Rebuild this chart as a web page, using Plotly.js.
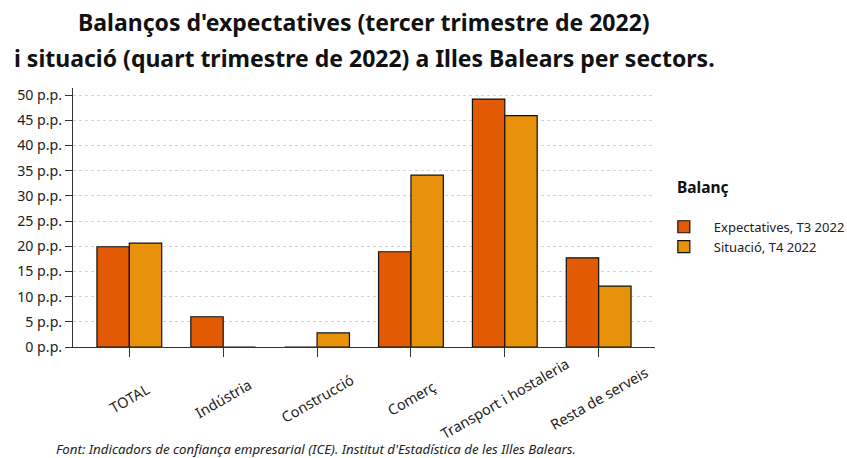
<!DOCTYPE html>
<html>
<head>
<meta charset="utf-8">
<script src="https://cdn.plot.ly/plotly-3.0.1.min.js"></script>
<style>html,body{margin:0;padding:0;background:#fff;}#chart{width:847px;height:458px;}</style>
</head>
<body>
<div id="chart"></div>
<script>
const categories = ["TOTAL", "Indústria", "Construcció", "Comerç", "Transport i hostaleria", "Resta de serveis"];
const expectatives = [19.9, 6.0, 0, 18.9, 49.2, 17.7];
const situacio = [20.6, 0, 2.8, 34.1, 45.9, 12.1];
const seriesNames = ["Expectatives, T3 2022", "Situació, T4 2022"];
const yTickVals = [0, 5, 10, 15, 20, 25, 30, 35, 40, 45, 50];
const yTickText = yTickVals.map(v => v + " p.p.");

const font = "Noto Sans, sans-serif";
const traces = [
  {type: "bar", name: seriesNames[0], x: categories, y: expectatives,
   marker: {color: "#e35a05", line: {color: "#111", width: 1.2}}},
  {type: "bar", name: seriesNames[1], x: categories, y: situacio,
   marker: {color: "#e8910a", line: {color: "#111", width: 1.2}}}
];
const catLabels = categories.map(c => ({
  text: c, xref: "x", yref: "paper", x: c, y: 0, yshift: -51,
  xanchor: "center", yanchor: "middle", textangle: -30, showarrow: false,
  font: {size: 14.5, family: font, color: "#222"}
}));
const layout = {
  width: 847, height: 458,
  margin: {l: 73, r: 192, t: 88, b: 111, autoexpand: false},
  font: {family: font, size: 13, color: "#222"},
  paper_bgcolor: "#fff", plot_bgcolor: "#fff",
  barmode: "group", bargap: 0.31, bargroupgap: 0,
  showlegend: true,
  xaxis: {type: "category", range: [-0.6, 5.6], showticklabels: false,
    showline: true, linecolor: "#333", linewidth: 1,
    ticks: "outside", ticklen: 9, tickcolor: "#333", showgrid: false, zeroline: false},
  yaxis: {range: [0, 51.4], tickvals: yTickVals, ticktext: yTickText,
    showline: true, linecolor: "#333", linewidth: 1,
    ticks: "outside", ticklen: 7, tickcolor: "#333",
    tickfont: {size: 14.2, family: font, color: "#222"},
    showgrid: true, gridcolor: "#d4d4d4", griddash: "dot", gridwidth: 1, zeroline: false},
  legend: {x: 0.998, xanchor: "left", y: 0.522, yanchor: "top",
    font: {size: 13, family: font, color: "#222"}, itemwidth: 50, tracegroupgap: 0,
    bgcolor: "rgba(0,0,0,0)"},
  annotations: [
    {text: "<b>Balanços d'expectatives (tercer trimestre de 2022)</b>", xref: "paper", yref: "paper",
     x: 0.5, y: 1, yshift: 66, xanchor: "center", yanchor: "middle", showarrow: false,
     font: {size: 23, family: font, color: "#111"}},
    {text: "<b>i situació (quart trimestre de 2022) a Illes Balears per sectors.</b>", xref: "paper", yref: "paper",
     x: 0.5, y: 1, yshift: 30, xanchor: "center", yanchor: "middle", showarrow: false,
     font: {size: 23, family: font, color: "#111"}},
    {text: "<b>Balanç</b>", xref: "paper", yref: "paper", x: 1.034, y: 0.618,
     xanchor: "left", yanchor: "middle", showarrow: false,
     font: {size: 15.5, family: font, color: "#111"}},
    {text: "<i>Font: Indicadors de confiança empresarial (ICE). Institut d'Estadística de les Illes Balears.</i>",
     xref: "paper", yref: "paper", x: 0, xshift: -19, y: 0, yshift: -102, xanchor: "left", yanchor: "middle",
     showarrow: false, font: {size: 13.3, family: font, color: "#222"}}
  ].concat(catLabels)
};
Plotly.newPlot("chart", traces, layout, {displayModeBar: false, staticPlot: true});
</script>
</body>
</html>
